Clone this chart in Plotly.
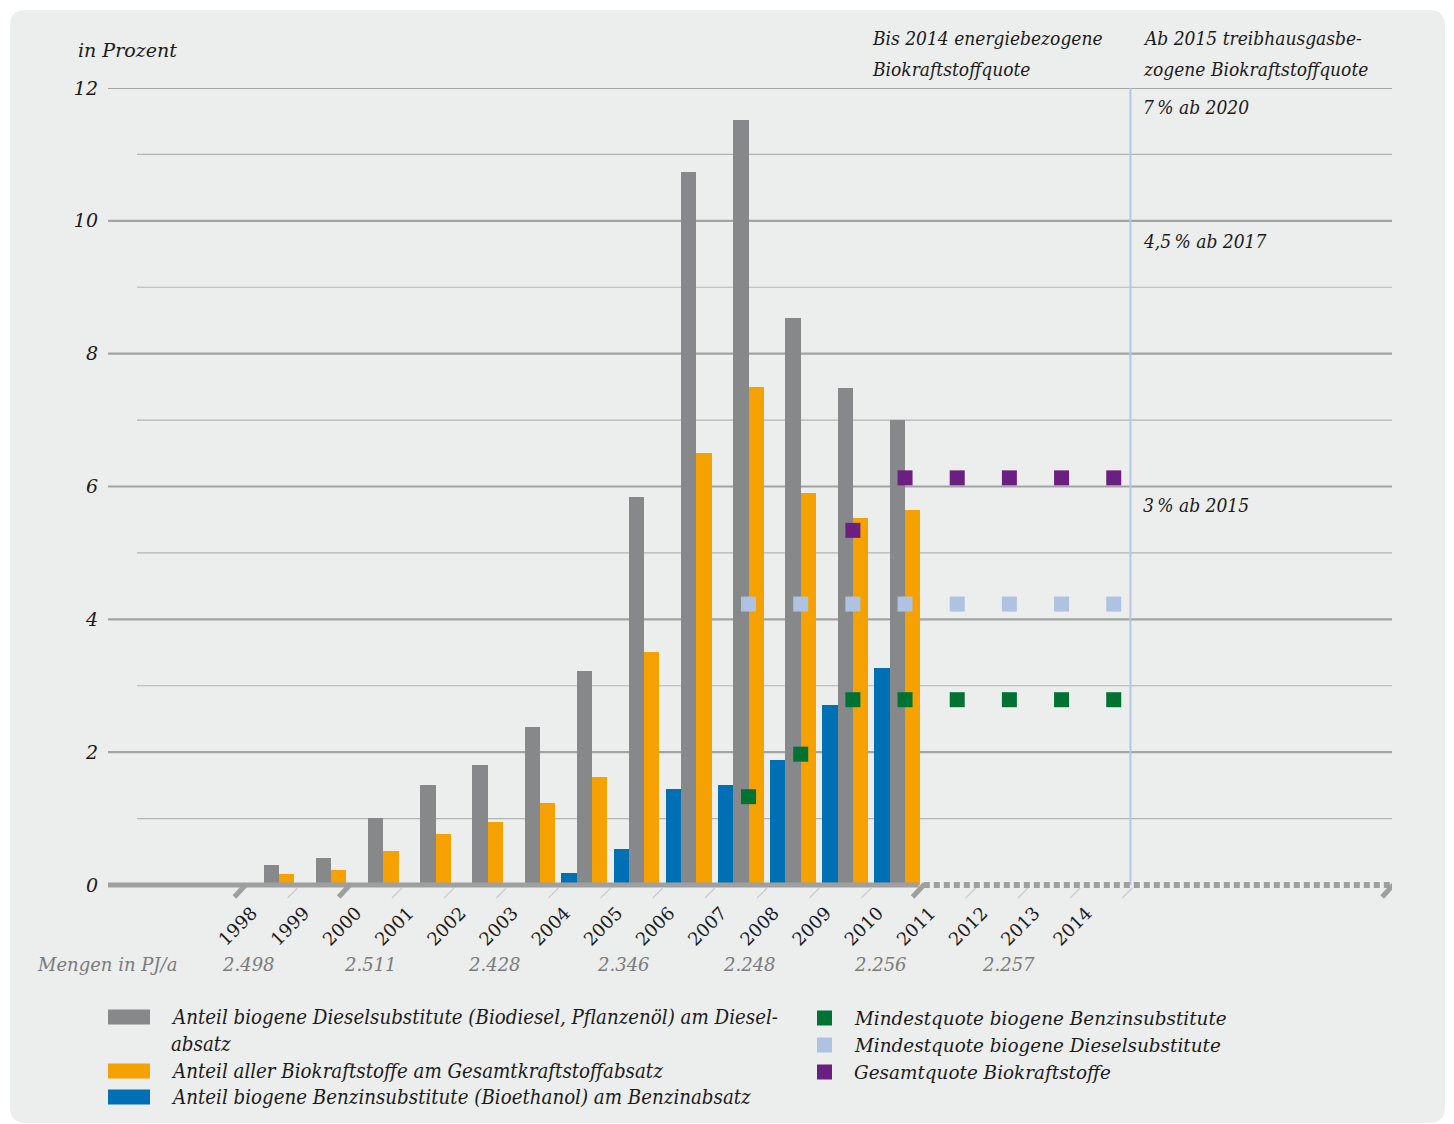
import plotly.graph_objects as go

# ---------------- data ----------------
years = list(range(1998, 2011))
diesel_share = [0.30, 0.41, 1.01, 1.51, 1.81, 2.38, 3.22, 5.84, 10.73, 11.52, 8.54, 7.48, 7.00]
total_share = [0.17, 0.23, 0.51, 0.77, 0.95, 1.23, 1.63, 3.51, 6.50, 7.50, 5.90, 5.53, 5.65]
petrol_share = [None, None, None, None, None, None, 0.18, 0.54, 1.45, 1.51, 1.88, 2.71, 3.27]

quota_years = list(range(2007, 2015))
min_petrol = [1.33, 1.97, 2.79, 2.79, 2.79, 2.79, 2.79, 2.79]
min_diesel = [4.23, 4.23, 4.23, 4.23, 4.23, 4.23, 4.23, 4.23]
total_quota_years = list(range(2009, 2015))
total_quota = [5.34, 6.13, 6.13, 6.13, 6.13, 6.13]

tick_years = list(range(1998, 2015))
tick_labels = [str(y) for y in tick_years]
y_ticks = [0, 2, 4, 6, 8, 10, 12]
mengen_labels = ["2.498", "2.511", "2.428", "2.346", "2.248", "2.256", "2.257"]
mengen_pos = [1997.41, 1999.75, 2002.14, 2004.6, 2007.02, 2009.53, 2011.98]

# ---------------- styling ----------------
W, H = 1454, 1124
L, R, T, B = 108, 1392, 88, 885
XMIN, XMAX = 1994.722, 2019.334
BW = 0.293
GREY = "#87888a"
ORANGE = "#f5a100"
BLUE = "#0070b5"
GREEN = "#007332"
LBLUE = "#aec2e2"
PURPLE = "#6b1f80"
CARD = "#eceded"
TXT = "#1a1a1a"
AXC = "#9e9f9f"
SERIF = "DejaVu Serif"
COND = "DejaVu Serif Condensed"


def px(x):
    return (x - L) / (R - L)


def py(y):
    return (B - y) / (B - T)


fig = go.Figure()
fig.add_trace(go.Bar(x=years, y=petrol_share, marker_color=BLUE, width=BW, offset=-2 * BW,
                     marker_line_width=0, name="benzin"))
fig.add_trace(go.Bar(x=years, y=diesel_share, marker_color=GREY, width=BW, offset=-BW,
                     marker_line_width=0, name="diesel"))
fig.add_trace(go.Bar(x=years, y=total_share, marker_color=ORANGE, width=BW, offset=0,
                     marker_line_width=0, name="gesamt"))
for xs, ys, col in [(quota_years, min_diesel, LBLUE), (quota_years, min_petrol, GREEN),
                    (total_quota_years, total_quota, PURPLE)]:
    fig.add_trace(go.Scatter(x=xs, y=ys, mode="markers", cliponaxis=False,
                             marker=dict(symbol="square", size=15, color=col, line_width=0)))

shapes = []
# card background
r = 16
x0, y0, x1, y1 = px(10), py(10), px(1445), py(1123)
rx, ry = r / (R - L), r / (B - T)
shapes.append(dict(type="path", xref="paper", yref="paper", layer="below",
                   fillcolor=CARD, line_width=0,
                   path=(f"M {x0+rx} {y0} L {x1-rx} {y0} Q {x1} {y0} {x1} {y0-ry} "
                         f"L {x1} {y1+ry} Q {x1} {y1} {x1-rx} {y1} L {x0+rx} {y1} "
                         f"Q {x0} {y1} {x0} {y1+ry} L {x0} {y0-ry} Q {x0} {y0} {x0+rx} {y0} Z")))
# gridlines
for v in range(1, 13):
    if v % 2 == 0:
        shapes.append(dict(type="line", xref="paper", yref="y", x0=0, x1=1, y0=v, y1=v,
                           line=dict(color="#a2a3a3", width=2.2), layer="below"))
    else:
        shapes.append(dict(type="line", xref="paper", yref="y", x0=px(137), x1=1, y0=v, y1=v,
                           line=dict(color="#b3b4b4", width=1.1), layer="below"))
# vertical separator
shapes.append(dict(type="line", xref="x", yref="y", x0=2014.32, x1=2014.32, y0=0, y1=12,
                   line=dict(color="#b6c7e3", width=2), layer="below"))
# thin slanted ticks
breaks = [1997, 1999, 2010, 2019]
for yv in range(1998, 2015):
    if yv in breaks:
        continue
    shapes.append(dict(type="line", xref="x", yref="paper", xsizemode="pixel", ysizemode="pixel",
                       xanchor=yv + 0.26, yanchor=0, x0=5, x1=-5, y0=-3, y1=-13,
                       line=dict(color="#c9caca", width=1.2), layer="above"))
# axis line: solid then dotted
shapes.append(dict(type="line", xref="x", yref="paper", x0=XMIN, x1=2010.26, y0=0, y1=0,
                   line=dict(color=AXC, width=5), layer="above"))
shapes.append(dict(type="line", xref="x", yref="paper", x0=2010.36, x1=XMAX, y0=0, y1=0,
                   line=dict(color=AXC, width=6, dash="6px,4px"), layer="above"))
# thick break slashes
for b_ in breaks:
    shapes.append(dict(type="line", xref="x", yref="paper", xsizemode="pixel", ysizemode="pixel",
                       xanchor=b_ + 0.26, yanchor=0, x0=6, x1=-6, y0=1, y1=-12,
                       line=dict(color=AXC, width=5), layer="above"))

annotations = []


def ann(text, x, y, size, family=SERIF, color=TXT, xanchor="left", italic=True, xref="paper"):
    annotations.append(dict(text=text, x=x, y=py(y), xref=xref, yref="paper",
                            xanchor=xanchor, yanchor="middle", showarrow=False,
                            font=dict(family=family, size=size, color=color,
                                      style="italic" if italic else "normal")))


ann("in Prozent", px(76), 50, 19)
ann("Bis 2014 energiebezogene", px(870), 38, 19, COND)
ann("Biokraftstoffquote", px(870), 69, 19, COND)
ann("Ab 2015 treibhausgasbe-", px(1141), 38, 19, COND)
ann("zogene Biokraftstoffquote", px(1141), 69, 19, COND)
ann("7\u2009% ab 2020", px(1141), 107, 19, COND)
ann("4,5\u2009% ab 2017", px(1141), 241, 19, COND)
ann("3\u2009% ab 2015", px(1141), 505, 19, COND)
ann("Mengen in PJ/a", px(35), 965, 18, SERIF, "#7a7b7b")
for lab, pos in zip(mengen_labels, mengen_pos):
    ann(lab, pos, 965, 18, SERIF, "#7a7b7b", xanchor="center", xref="x")

# legend (manual)
left_items = [(GREY, 1017, ["Anteil biogene Dieselsubstitute (Biodiesel, Pflanzenöl) am Diesel-", "absatz"]),
              (ORANGE, 1071, ["Anteil aller Biokraftstoffe am Gesamtkraftstoffabsatz"]),
              (BLUE, 1097, ["Anteil biogene Benzinsubstitute (Bioethanol) am Benzinabsatz"])]
for col, yc, lines in left_items:
    shapes.append(dict(type="rect", xref="paper", yref="paper", x0=px(108), x1=px(150),
                       y0=py(yc - 7.5), y1=py(yc + 7.5), fillcolor=col, line_width=0))
    for i, t in enumerate(lines):
        ann(t, px(169), yc + i * 27, 20.3, COND)
right_items = [(GREEN, 1018, "Mindestquote biogene Benzinsubstitute"),
               (LBLUE, 1045, "Mindestquote biogene Dieselsubstitute"),
               (PURPLE, 1072, "Gesamtquote Biokraftstoffe")]
for col, yc, t in right_items:
    shapes.append(dict(type="rect", xref="paper", yref="paper", x0=px(817), x1=px(832),
                       y0=py(yc - 7.5), y1=py(yc + 7.5), fillcolor=col, line_width=0))
    ann(t, px(852), yc, 18.4, SERIF)

fig.update_layout(
    width=W, height=H,
    margin=dict(l=L, r=W - R, t=T, b=H - B, pad=0),
    paper_bgcolor="white", plot_bgcolor="rgba(0,0,0,0)",
    showlegend=False, barmode="overlay", bargap=0, hovermode=False,
    shapes=shapes, annotations=annotations,
    xaxis=dict(range=[XMIN, XMAX], showgrid=False, zeroline=False, showline=False,
               tickmode="array", tickvals=tick_years, ticktext=tick_labels, tickangle=-45,
               ticks="", ticklabelshift=-27, ticklabelstandoff=13,
               tickfont=dict(family=SERIF, size=18, color=TXT)),
    yaxis=dict(range=[0, 12], showgrid=False, zeroline=False, showline=False,
               tickmode="array", tickvals=y_ticks, ticks="", ticklabelstandoff=9,
               tickfont=dict(family=SERIF, size=19, color=TXT, style="italic")),
)
fig.write_html("out.html", config={"displayModeBar": False},
               post_script="document.body.style.margin='0';document.body.style.overflow='hidden';")
